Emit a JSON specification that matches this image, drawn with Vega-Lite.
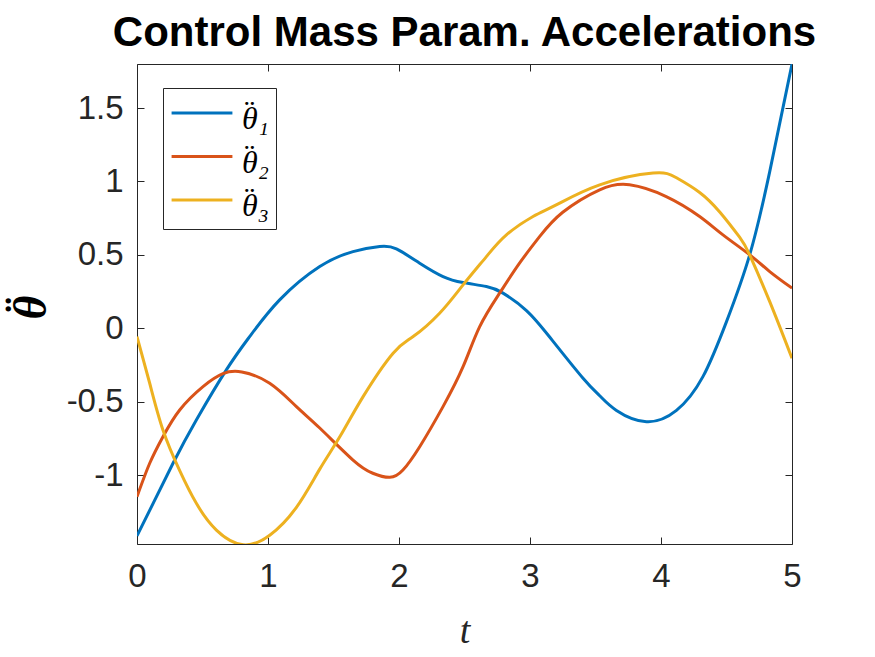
{
  "$schema": "https://vega.github.io/schema/vega-lite/v6.json",
  "width": 655,
  "height": 480,
  "autosize": {"type": "none"},
  "padding": {"left": 137, "top": 64, "right": 83, "bottom": 113},
  "background": "white",
  "title": {"text": "Control Mass Param. Accelerations", "font": "Liberation Sans", "fontSize": 42, "fontWeight": "bold", "color": "black", "anchor": "middle", "offset": 9},
  "config": {"view": {"stroke": "#262626", "strokeWidth": 1}, "style": {"guide-label": {"lineHeight": 6}}},
  "data": {"values": [
    {"t": 0, "v": -1.415, "s": "θ̈₁"},
    {"t": 0.275, "v": -0.92, "s": "θ̈₁"},
    {"t": 0.453, "v": -0.625, "s": "θ̈₁"},
    {"t": 0.682, "v": -0.284, "s": "θ̈₁"},
    {"t": 0.86, "v": -0.057, "s": "θ̈₁"},
    {"t": 1.089, "v": 0.193, "s": "θ̈₁"},
    {"t": 1.395, "v": 0.42, "s": "θ̈₁"},
    {"t": 1.649, "v": 0.522, "s": "θ̈₁"},
    {"t": 1.853, "v": 0.556, "s": "θ̈₁"},
    {"t": 1.98, "v": 0.54, "s": "θ̈₁"},
    {"t": 2.158, "v": 0.443, "s": "θ̈₁"},
    {"t": 2.336, "v": 0.352, "s": "θ̈₁"},
    {"t": 2.489, "v": 0.311, "s": "θ̈₁"},
    {"t": 2.667, "v": 0.284, "s": "θ̈₁"},
    {"t": 2.794, "v": 0.239, "s": "θ̈₁"},
    {"t": 2.973, "v": 0.12, "s": "θ̈₁"},
    {"t": 3.15, "v": -0.06, "s": "θ̈₁"},
    {"t": 3.405, "v": -0.341, "s": "θ̈₁"},
    {"t": 3.532, "v": -0.46, "s": "θ̈₁"},
    {"t": 3.66, "v": -0.56, "s": "θ̈₁"},
    {"t": 3.889, "v": -0.637, "s": "θ̈₁"},
    {"t": 4.118, "v": -0.56, "s": "θ̈₁"},
    {"t": 4.32, "v": -0.33, "s": "θ̈₁"},
    {"t": 4.5, "v": 0.045, "s": "θ̈₁"},
    {"t": 4.677, "v": 0.5, "s": "θ̈₁"},
    {"t": 4.83, "v": 1.067, "s": "θ̈₁"},
    {"t": 5, "v": 1.8, "s": "θ̈₁"},
    {"t": 0, "v": -1.148, "s": "θ̈₂"},
    {"t": 0.097, "v": -0.92, "s": "θ̈₂"},
    {"t": 0.198, "v": -0.739, "s": "θ̈₂"},
    {"t": 0.326, "v": -0.557, "s": "θ̈₂"},
    {"t": 0.504, "v": -0.398, "s": "θ̈₂"},
    {"t": 0.656, "v": -0.31, "s": "θ̈₂"},
    {"t": 0.8, "v": -0.298, "s": "θ̈₂"},
    {"t": 1.013, "v": -0.375, "s": "θ̈₂"},
    {"t": 1.217, "v": -0.534, "s": "θ̈₂"},
    {"t": 1.395, "v": -0.68, "s": "θ̈₂"},
    {"t": 1.649, "v": -0.898, "s": "θ̈₂"},
    {"t": 1.8, "v": -0.988, "s": "θ̈₂"},
    {"t": 1.93, "v": -1.016, "s": "θ̈₂"},
    {"t": 2.03, "v": -0.966, "s": "θ̈₂"},
    {"t": 2.158, "v": -0.807, "s": "θ̈₂"},
    {"t": 2.336, "v": -0.534, "s": "θ̈₂"},
    {"t": 2.489, "v": -0.262, "s": "θ̈₂"},
    {"t": 2.616, "v": 0.011, "s": "θ̈₂"},
    {"t": 2.768, "v": 0.239, "s": "θ̈₂"},
    {"t": 2.92, "v": 0.443, "s": "θ̈₂"},
    {"t": 3.073, "v": 0.624, "s": "θ̈₂"},
    {"t": 3.25, "v": 0.79, "s": "θ̈₂"},
    {"t": 3.532, "v": 0.943, "s": "θ̈₂"},
    {"t": 3.76, "v": 0.977, "s": "θ̈₂"},
    {"t": 4.04, "v": 0.897, "s": "θ̈₂"},
    {"t": 4.295, "v": 0.761, "s": "θ̈₂"},
    {"t": 4.473, "v": 0.636, "s": "θ̈₂"},
    {"t": 4.677, "v": 0.5, "s": "θ̈₂"},
    {"t": 4.83, "v": 0.386, "s": "θ̈₂"},
    {"t": 5, "v": 0.273, "s": "θ̈₂"},
    {"t": 0, "v": -0.057, "s": "θ̈₃"},
    {"t": 0.097, "v": -0.375, "s": "θ̈₃"},
    {"t": 0.198, "v": -0.693, "s": "θ̈₃"},
    {"t": 0.326, "v": -0.97, "s": "θ̈₃"},
    {"t": 0.453, "v": -1.193, "s": "θ̈₃"},
    {"t": 0.606, "v": -1.375, "s": "θ̈₃"},
    {"t": 0.81, "v": -1.475, "s": "θ̈₃"},
    {"t": 1.013, "v": -1.41, "s": "θ̈₃"},
    {"t": 1.217, "v": -1.22, "s": "θ̈₃"},
    {"t": 1.395, "v": -0.96, "s": "θ̈₃"},
    {"t": 1.548, "v": -0.74, "s": "θ̈₃"},
    {"t": 1.726, "v": -0.466, "s": "θ̈₃"},
    {"t": 1.955, "v": -0.17, "s": "θ̈₃"},
    {"t": 2.108, "v": -0.057, "s": "θ̈₃"},
    {"t": 2.31, "v": 0.102, "s": "θ̈₃"},
    {"t": 2.489, "v": 0.295, "s": "θ̈₃"},
    {"t": 2.667, "v": 0.488, "s": "θ̈₃"},
    {"t": 2.82, "v": 0.636, "s": "θ̈₃"},
    {"t": 3.023, "v": 0.761, "s": "θ̈₃"},
    {"t": 3.2, "v": 0.84, "s": "θ̈₃"},
    {"t": 3.532, "v": 0.977, "s": "θ̈₃"},
    {"t": 3.94, "v": 1.057, "s": "θ̈₃"},
    {"t": 4.118, "v": 1.025, "s": "θ̈₃"},
    {"t": 4.295, "v": 0.925, "s": "θ̈₃"},
    {"t": 4.45, "v": 0.79, "s": "θ̈₃"},
    {"t": 4.6, "v": 0.62, "s": "θ̈₃"},
    {"t": 4.677, "v": 0.5, "s": "θ̈₃"},
    {"t": 4.83, "v": 0.181, "s": "θ̈₃"},
    {"t": 5, "v": -0.205, "s": "θ̈₃"}
  ]},
  "layer": [
    {
      "mark": {"type": "line", "strokeWidth": 3, "interpolate": "natural", "clip": true},
      "encoding": {
        "x": {"field": "t", "type": "quantitative", "scale": {"domain": [0, 5], "nice": false, "zero": false},
          "axis": {"orient": "bottom", "values": [0, 1, 2, 3, 4, 5], "tickSize": -7, "tickColor": "#262626", "domain": false, "grid": false, "labelFont": "Liberation Sans", "labelFontSize": 33, "labelColor": "#262626", "labelPadding": 23, "labelFlush": false,
            "title": "t", "titleFont": "Liberation Serif", "titleFontStyle": "italic", "titleFontWeight": "normal", "titleFontSize": 38, "titleColor": "#262626", "titleY": 98, "titleBaseline": "alphabetic"}},
        "y": {"field": "v", "type": "quantitative", "scale": {"domain": [-1.47, 1.8], "nice": false, "zero": false},
          "axis": {"orient": "left", "values": [-1, -0.5, 0, 0.5, 1, 1.5], "tickSize": -7, "tickColor": "#262626", "domain": false, "grid": false, "labelFont": "Liberation Sans", "labelFontSize": 33, "labelColor": "#262626", "labelPadding": 21, "labelFlush": false,
            "labelExpr": "datum.value < 0 ? '-' + toString(-datum.value) : toString(datum.value)",
            "title": ["¨", "θ"], "titleLineHeight": 9, "titleFont": "Liberation Serif", "titleFontStyle": "italic", "titleFontWeight": "bold", "titleFontSize": 46, "titleColor": "#000000", "titleAngle": -90, "titleX": -115, "titleY": 243, "titleAlign": "center", "titleBaseline": "middle"}},
        "color": {"field": "s", "type": "nominal", "scale": {"domain": ["θ̈₁", "θ̈₂", "θ̈₃"], "range": ["#0072BD", "#D95319", "#EDB120"]},
          "legend": {"title": null, "orient": "none", "legendX": 26, "legendY": 24, "fillColor": "white", "strokeColor": "#262626", "padding": 7, "symbolType": "stroke", "symbolSize": 3700, "symbolStrokeWidth": 3,
            "labelExpr": "['\u2009¨', replace(datum.label, '\u0308', '')]",
            "labelFont": "Liberation Serif", "labelFontStyle": "italic", "labelFontSize": 32, "labelColor": "#000000", "labelOffset": 8, "clipHeight": 36, "rowPadding": 3.5}}
      }
    },
    {
      "mark": {"type": "line", "opacity": 0},
      "encoding": {
        "x": {"field": "t", "type": "quantitative", "axis": {"orient": "top", "values": [0, 1, 2, 3, 4, 5], "tickSize": -7, "tickColor": "#262626", "domain": false, "labels": false, "grid": false, "title": null}},
        "y": {"field": "v", "type": "quantitative", "axis": {"orient": "right", "values": [-1, -0.5, 0, 0.5, 1, 1.5], "tickSize": -7, "tickColor": "#262626", "domain": false, "labels": false, "grid": false, "title": null}}
      }
    }
  ],
  "resolve": {"axis": {"x": "independent", "y": "independent"}}
}
